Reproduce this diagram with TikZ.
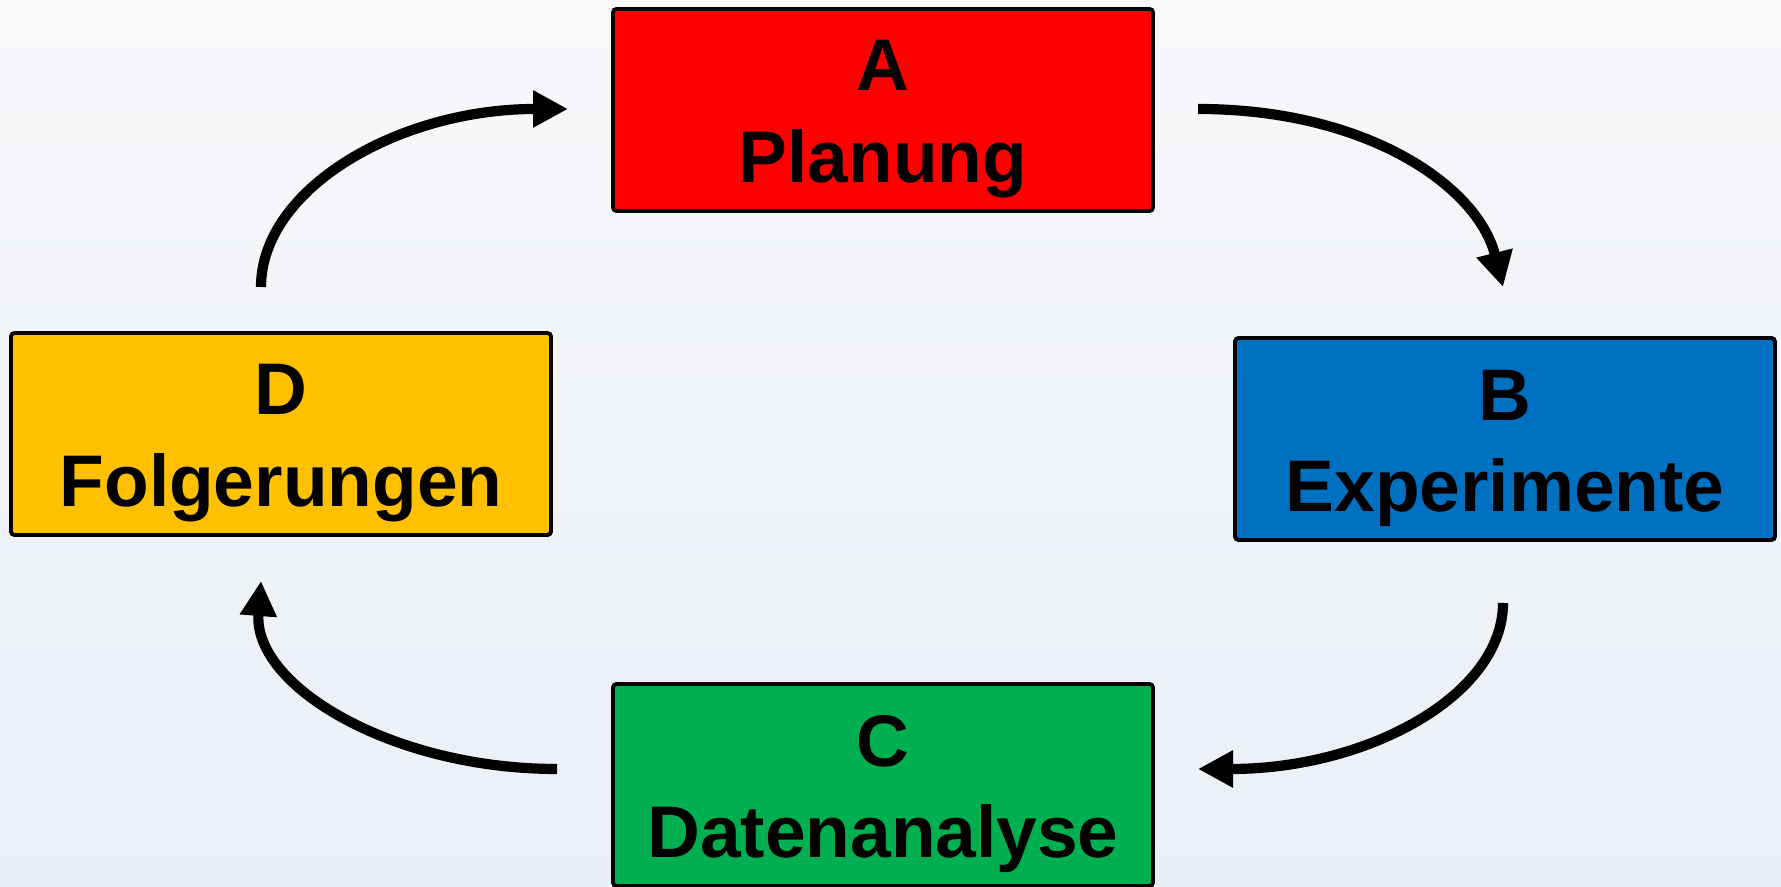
\documentclass[tikz,border=0pt]{standalone}
\usepackage{fontspec}
\setmainfont{Liberation Sans}
\usetikzlibrary{arrows.meta, positioning}

\definecolor{planred}{HTML}{FF0000}
\definecolor{expblue}{HTML}{0070C0}
\definecolor{datgreen}{HTML}{00B050}
\definecolor{folgold}{HTML}{FFC000}
\definecolor{bgtop}{HTML}{F7F8FA}
\definecolor{bgbot}{HTML}{EAEFF6}
\newcommand{\capgap}{\rule{0pt}{19.5pt}}

\begin{document}
\begin{tikzpicture}[>={Triangle[length=3.5mm,width=3.5mm]},
  box/.style={draw, line width=1.1pt, rounded corners=1pt, minimum width=5.4cm, minimum height=2.02cm,
    inner sep=0pt, align=center, font=\fontsize{20.8}{25.9}\selectfont\bfseries},
  flow/.style={->, line width=2.9pt}]
  % Background
  \useasboundingbox (0,0) rectangle (17.81,8.87);
  \shade[top color=bgtop, middle color=white, bottom color=bgbot] (0,0) rectangle (17.81,8.87);

  % Nodes
  \node[box, fill=planred] (plan) at (8.83,7.77) {\capgap A\\Planung};
  \node[box, fill=expblue] (exp) at (15.05,4.48) {\capgap B\\Experimente};
  \node[box, fill=datgreen] (dat) at (8.83,1.02) {\capgap C\\Datenanalyse};
  \node[box, fill=folgold] (fol) at (2.81,4.53) {\capgap D\\Folgerungen};

  % Arrow ends
  \coordinate (fol-up) at (2.61,6.00);
  \coordinate (plan-in) at (5.68,7.78);
  \coordinate (plan-out) at (11.98,7.78);
  \coordinate (exp-in) at (15.03,6.00);
  \coordinate (exp-out) at (15.03,2.84);
  \coordinate (dat-in) at (11.98,1.18);
  \coordinate (dat-out) at (5.57,1.18);
  \coordinate (fol-in) at (2.61,3.06);

  % Connections
  \draw[flow] (fol-up) .. controls +(0,0.98) and +(-1.70,0) .. (plan-in);
  \draw[flow] (plan-out) .. controls +(1.70,0) and +(-0.25,1.0) .. (exp-in);
  \draw[flow] (exp-out) .. controls +(0,-0.92) and +(1.70,0) .. (dat-in);
  \draw[flow] (dat-out) .. controls +(-1.65,0) and +(-0.08,-1.05) .. (fol-in);
\end{tikzpicture}
\end{document}
